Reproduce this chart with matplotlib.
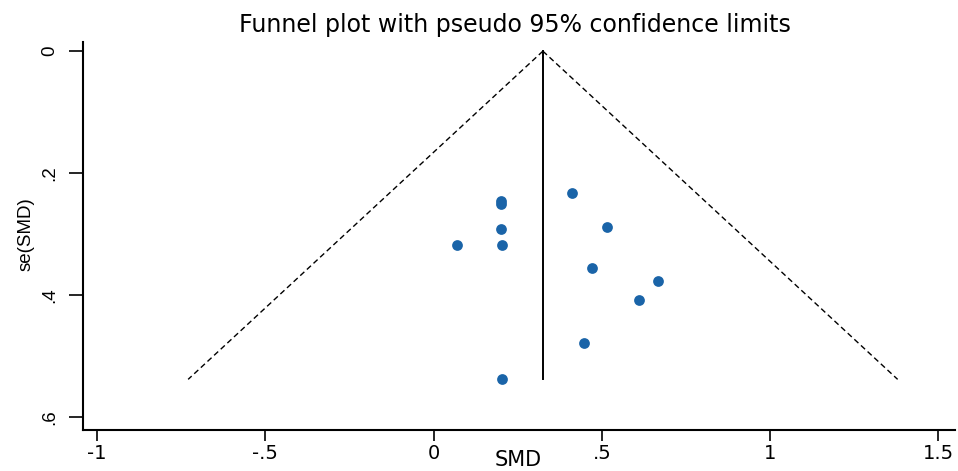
import matplotlib
matplotlib.use("Agg")
import matplotlib.pyplot as plt
import numpy as np
from matplotlib.ticker import FuncFormatter

plt.rcParams['font.family'] = ['DejaVu Sans']

# study data
smd = [0.413, 0.201, 0.201, 0.515, 0.201, 0.070, 0.202, 0.470, 0.666, 0.612, 0.446, 0.203]
se = [0.233, 0.245, 0.251, 0.2885, 0.291, 0.3175, 0.318, 0.356, 0.3765, 0.408, 0.479, 0.538]
pooled = 0.325
x_ticks = [-1, -0.5, 0, 0.5, 1, 1.5]
y_ticks = [0, 0.2, 0.4, 0.6]

W, H = 958, 471
fig = plt.figure(figsize=(W/100, H/100), dpi=100)
ax = fig.add_axes([83/W, 1-430/H, (955-83)/W, (430-42)/H])

se_max = max(se)
se_line = np.array([0, se_max])
ax.plot([pooled, pooled], se_line, color='black', lw=1.4)
ax.plot(pooled - 1.96*se_line, se_line, color='black', lw=1.0, ls=(0, (4, 2.5)))
ax.plot(pooled + 1.96*se_line, se_line, color='black', lw=1.0, ls=(0, (4, 2.5)))
ax.scatter(smd, se, s=60, color='#1a64a8', marker='o', linewidths=0, zorder=3)

ax.set_xlim(-1.042, 1.55)
ax.set_ylim(0.621, -0.015)

def fmt(v, pos):
    s = f"{v:g}"
    if s.startswith("0."):
        s = s[1:]
    if s.startswith("-0."):
        s = "-" + s[2:]
    return s

ax.set_xticks(x_ticks)
ax.set_yticks(y_ticks)
ax.xaxis.set_major_formatter(FuncFormatter(fmt))
ax.yaxis.set_major_formatter(FuncFormatter(fmt))
ax.tick_params(axis='x', direction='out', length=8, width=1.2, labelsize=14, pad=2, colors='black')
ax.tick_params(axis='y', direction='out', length=10, width=1.2, labelsize=13.5, pad=8, colors='black')
for lab in ax.get_yticklabels():
    lab.set_rotation(90)
    lab.set_va('center')
    lab.set_family(['Liberation Sans', 'DejaVu Sans'])
for side in ['top', 'right']:
    ax.spines[side].set_visible(False)
for side in ['left', 'bottom']:
    ax.spines[side].set_linewidth(1.5)

fig.text(518/W, 0.002, 'SMD', ha='center', va='bottom', fontsize=15)
fig.text(26/W, 1-234/H, 'se(SMD)', ha='center', va='center', rotation=90,
         fontsize=13.5, family=['Liberation Sans', 'DejaVu Sans'])
fig.text(515/W, 1-32/H, 'Funnel plot with pseudo 95% confidence limits',
         ha='center', va='baseline', fontsize=17)

fig.savefig('out.png', dpi=100)
